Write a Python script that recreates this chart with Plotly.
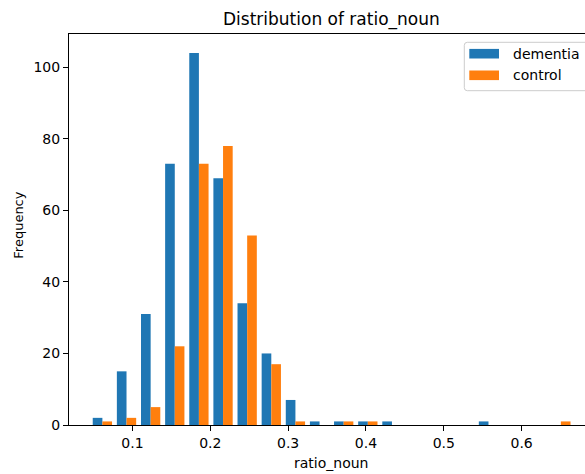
import plotly.graph_objects as go

# ---- data ----
bin_start = 0.0459
bin_width = 0.0310
dementia_counts = [2, 15, 31, 73, 104, 69, 34, 20, 7, 1, 1, 1, 1, 0, 0, 0, 1, 0, 0, 0]
control_counts = [1, 2, 5, 22, 73, 78, 53, 17, 1, 0, 1, 1, 0, 0, 0, 0, 0, 0, 0, 1]
series_names = ["dementia", "control"]
series_colors = ["#1f77b4", "#ff7f0e"]
x_ticks = [0.1, 0.2, 0.3, 0.4, 0.5, 0.6]
y_ticks = [0, 20, 40, 60, 80, 100]

centers = [bin_start + (i + 0.5) * bin_width for i in range(len(dementia_counts))]

W, H = 585, 474
ML, MR, MT, MB = 69, 0, 34, 49
PW, PH = W - ML - MR, H - MT - MB

fig = go.Figure()
for name, vals, col in zip(series_names, [dementia_counts, control_counts], series_colors):
    fig.add_trace(go.Bar(x=centers, y=vals, name=name, marker=dict(color=col, line=dict(width=0)),
                         showlegend=False))

FONT = "DejaVu Sans"
fig.update_layout(
    width=W, height=H,
    margin=dict(l=ML, r=MR, t=MT, b=MB, pad=0),
    paper_bgcolor="white", plot_bgcolor="white",
    barmode="group", bargap=0.2, bargroupgap=0,
    font=dict(family=FONT, size=14, color="black"),
)
fig.update_xaxes(range=[0.01851, 0.6814], tickvals=x_ticks, ticktext=[f"{v:.1f}" for v in x_ticks],
                 showgrid=False, zeroline=False, showline=True, linecolor="black", linewidth=1,
                 mirror=True, ticks="outside", ticklen=5, tickwidth=1, tickcolor="black",
                 tickfont=dict(family=FONT, size=14, color="black"))
fig.update_yaxes(range=[0, 109.3], tickvals=y_ticks, showgrid=False, zeroline=False,
                 showline=True, linecolor="black", linewidth=1, ticks="outside", ticklen=5,
                 tickwidth=1, tickcolor="black", tickfont=dict(family=FONT, size=14, color="black"))


def px_x(p):
    return (p - ML) / PW


def px_y(p):
    return (H - MB - p) / PH


# title and axis labels
fig.add_annotation(text="Distribution of ratio_noun", xref="paper", yref="paper",
                   x=px_x(331.3), y=px_y(19.5), xanchor="center", yanchor="middle",
                   showarrow=False, font=dict(family=FONT, size=17, color="black"))
fig.add_annotation(text="ratio_noun", xref="paper", yref="paper",
                   x=px_x(331.3), y=px_y(463), xanchor="center", yanchor="middle",
                   showarrow=False, font=dict(family=FONT, size=14, color="black"))
fig.add_annotation(text="Frequency", xref="paper", yref="paper", textangle=-90,
                   x=px_x(17.7), y=px_y(225), xanchor="center", yanchor="middle",
                   showarrow=False, font=dict(family=FONT, size=13, color="black"))


# legend (drawn manually to match the reference frame)
def rounded_rect(x0, y0, x1, y1, r):
    # pixel coords -> paper path
    pts = []
    def P(x, y):
        return f"{px_x(x)},{px_y(y)}"
    path = (f"M {P(x0 + r, y0)} L {P(x1 - r, y0)} Q {P(x1, y0)} {P(x1, y0 + r)} "
            f"L {P(x1, y1 - r)} Q {P(x1, y1)} {P(x1 - r, y1)} L {P(x0 + r, y1)} "
            f"Q {P(x0, y1)} {P(x0, y1 - r)} L {P(x0, y0 + r)} Q {P(x0, y0)} {P(x0 + r, y0)} Z")
    return path


fig.add_shape(type="path", xref="paper", yref="paper", path=rounded_rect(464.3, 42.3, 600, 90.7, 3),
              line=dict(color="#cccccc", width=1), fillcolor="rgba(255,255,255,0.8)", layer="above")
legend_rows = [53.7, 75.3]
for name, col, yc in zip(series_names, series_colors, legend_rows):
    fig.add_shape(type="rect", xref="paper", yref="paper",
                  x0=px_x(469.3), x1=px_x(499), y0=px_y(yc - 4.8), y1=px_y(yc + 4.8),
                  fillcolor=col, line=dict(width=0), layer="above")
    fig.add_annotation(text=name, xref="paper", yref="paper", x=px_x(511), y=px_y(yc),
                       xanchor="left", yanchor="middle", showarrow=False,
                       font=dict(family=FONT, size=14, color="black"))

fig.write_html("out.html")
